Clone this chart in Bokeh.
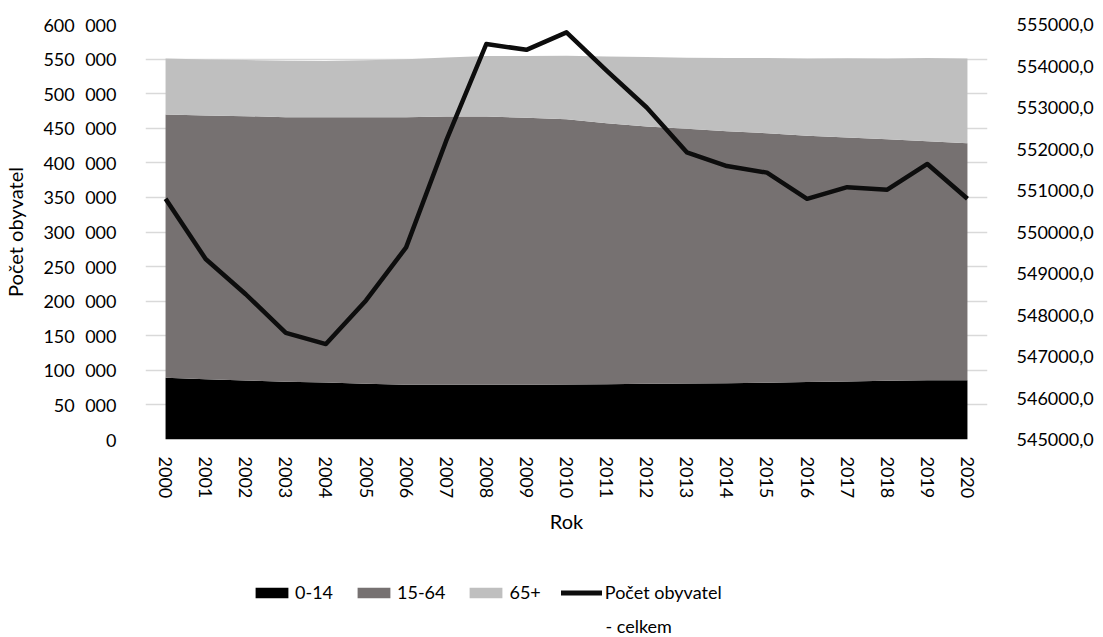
from bokeh.plotting import figure
from bokeh.layouts import column
from bokeh.models import (ColumnDataSource, Range1d, LinearAxis, FixedTicker,
                          CustomJSTickFormatter, Legend, LegendItem, Label)
from bokeh.embed import file_html
from bokeh.resources import INLINE

years = list(range(2000, 2021))
age_0_14 = [89200, 87200, 85300, 83400, 82400, 80500, 79100, 79000, 79000, 79000, 79500,
            80000, 80500, 81000, 81500, 82000, 83000, 84000, 85000, 85500, 85800]
age_15_64 = [380700, 381300, 382200, 382600, 383600, 385500, 386900, 388000, 388000, 386200, 383500,
             377400, 372100, 368300, 364300, 360900, 356100, 352700, 349200, 345800, 342600]
age_65 = [80900, 80850, 81000, 81570, 81300, 82350, 83630, 85200, 87530, 89190, 91810,
          96490, 100400, 102620, 105790, 108530, 111700, 114380, 116820, 120340, 122400]
total = [550800, 549350, 548500, 547570, 547300, 548350, 549630, 552200, 554530, 554390, 554810,
         553890, 553000, 551920, 551590, 551430, 550800, 551080, 551020, 551640, 550800]

series_names = ["0-14", "15-64", "65+"]
line_name = "Počet obyvatel"
line_name_2 = "- celkem"
series_colors = ["#000000", "#767171", "#BFBFBF"]
line_color = "#0d0d0d"
left_ticks = list(range(0, 600001, 50000))
right_ticks = list(range(545000, 555001, 1000))

FONT = "Lato"
TXT = "#000000"

src = ColumnDataSource(dict(year=years, a=age_0_14, b=age_15_64, c=age_65, total=total))

p = figure(width=1103, height=549, output_backend="svg", toolbar_location=None,
           x_range=Range1d(1999.5, 2020.5), y_range=Range1d(0, 600000),
           min_border_left=145, min_border_right=116, min_border_top=24, min_border_bottom=110)
p.outline_line_color = None
p.background_fill_color = "white"
p.border_fill_color = "white"

areas = p.varea_stack(stackers=["a", "b", "c"], x="year", color=series_colors, source=src)

p.extra_y_ranges = {"right": Range1d(545000, 555000)}
line = p.line("year", "total", source=src, y_range_name="right", line_color=line_color,
              line_width=4.5, line_join="round")

# left axis
ya = p.yaxis[0]
ya.ticker = FixedTicker(ticks=left_ticks)
ya.formatter = CustomJSTickFormatter(code="return tick.toString().replace(/\\B(?=(\\d{3})+(?!\\d))/g, '\\u2007');")
ya.axis_label = "Počet obyvatel"
ya.axis_line_color = None
ya.major_tick_line_color = None
ya.minor_tick_line_color = None
ya.major_label_standoff = 23
ya.axis_label_standoff = 13
ya.major_label_text_font = FONT
ya.major_label_text_font_size = "18px"
ya.major_label_text_color = TXT
ya.axis_label_text_font = FONT
ya.axis_label_text_font_size = "20px"
ya.axis_label_text_font_style = "normal"
ya.axis_label_text_color = TXT

ra = LinearAxis(y_range_name="right", ticker=FixedTicker(ticks=right_ticks),
                formatter=CustomJSTickFormatter(code="return tick.toFixed(1).replace('.', ',');"))
ra.axis_line_color = None
ra.major_tick_line_color = None
ra.minor_tick_line_color = None
ra.major_label_standoff = 23
ra.major_label_text_font = FONT
ra.major_label_text_font_size = "18px"
ra.major_label_text_color = TXT
p.add_layout(ra, "right")

xa = p.xaxis[0]
xa.ticker = FixedTicker(ticks=years)
xa.axis_label = "Rok"
xa.major_label_orientation = "vertical"
xa.axis_line_color = None
xa.major_tick_line_color = None
xa.minor_tick_line_color = None
xa.major_label_standoff = 11
xa.axis_label_standoff = 8
xa.major_label_text_font = FONT
xa.major_label_text_font_size = "18px"
xa.major_label_text_color = TXT
xa.axis_label_text_font = FONT
xa.axis_label_text_font_size = "20px"
xa.axis_label_text_font_style = "normal"
xa.axis_label_text_color = TXT

p.xgrid.grid_line_color = None
p.ygrid.grid_line_color = "#D9D9D9"
p.ygrid.grid_line_width = 1.3

# legend figure: key renderers use the same data but lie outside its view
lg = figure(width=1103, height=88, output_backend="svg", toolbar_location=None,
            x_axis_type=None, y_axis_type=None, min_border=0,
            x_range=Range1d(0, 1), y_range=Range1d(0, 1))
lg.outline_line_color = None
lg.grid.grid_line_color = None
key_renderers = lg.varea_stack(stackers=["a", "b", "c"], x="year", color=series_colors, source=src)
key_line = lg.line("year", "total", source=src, line_color=line_color, line_width=5,
                   line_cap="round")
items = [LegendItem(label=n, renderers=[r]) for n, r in zip(series_names, key_renderers)]
items.append(LegendItem(label=line_name, renderers=[key_line]))
legend = Legend(items=items, orientation="horizontal", location=(106, 34),
                padding=0, margin=0, spacing=20, label_standoff=3,
                glyph_width=41, glyph_height=13,
                label_text_font=FONT, label_text_font_size="18px", label_text_color=TXT,
                border_line_color=None, background_fill_alpha=0)
lg.add_layout(legend, "center")
lg.add_layout(Label(x=460, y=12, x_units="screen", y_units="screen", text=line_name_2,
                    text_font=FONT, text_font_size="18px", text_color=TXT,
                    text_align="left", text_baseline="middle"))

layout = column(p, lg, spacing=0)
open("out.html", "w").write(file_html(layout, INLINE))
